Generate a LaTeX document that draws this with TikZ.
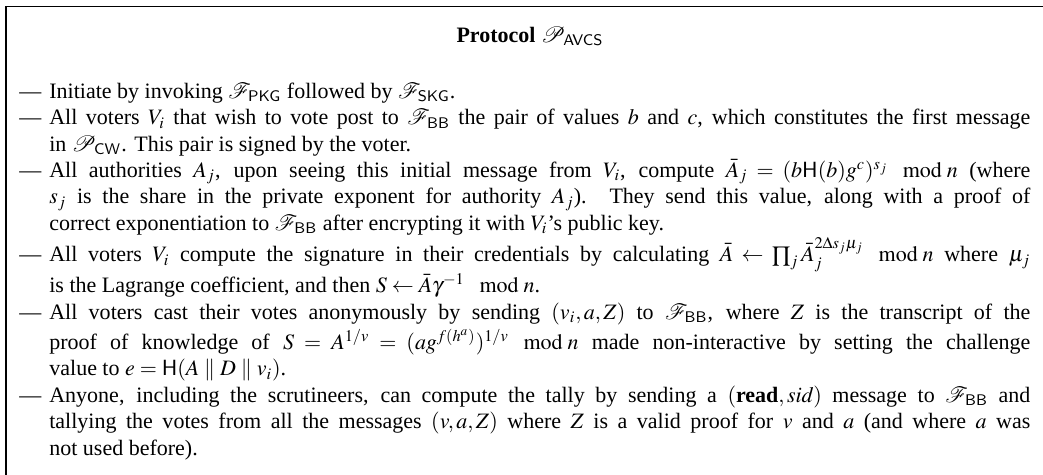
\documentclass[tikz,border=0pt]{standalone}
\usepackage{amsmath}
\usepackage{mathptmx}
\usepackage{fontspec}
\setmainfont{Liberation Serif}
\setsansfont{Liberation Sans}
\newcommand{\protstep}[1]{\par\noindent\hangindent=13.6pt\hangafter=1\strut\makebox[13.6pt][l]{---}#1\par}
\begin{document}
\begin{tikzpicture}[x=0.4545pt,y=-0.4545pt]
	\tikzset{step text/.style={anchor=north west,inner sep=0pt,text width=459.5pt,align=justify,font=\fontsize{10}{12}\selectfont}}
	\useasboundingbox (0,0) rectangle (1043,474);
	\draw[line width=0.6pt] (1060,6.5) -- (6,6.5) -- (6,490);
	\node[anchor=base,inner sep=0pt,font=\fontsize{10}{12}\selectfont\bfseries] (title) at (530,42) {Protocol $\mathcal{P}_{\mathsf{AVCS}}$};
	\node[step text] (steps) at (19,71.5) {%
		\protstep{Initiate by invoking $\mathcal{F}_{\mathsf{PKG}}$ followed by $\mathcal{F}_{\mathsf{SKG}}$.}
		\protstep{All voters $V_i$ that wish to vote post to $\mathcal{F}_{\mathsf{BB}}$ the pair of values $b$ and $c$, which constitutes the first message\linebreak in $\mathcal{P}_{\mathsf{CW}}$. This pair is signed by the voter.}
		\protstep{All authorities $A_j$, upon seeing this initial message from $V_i$, compute $\bar{A}_j = (b\mathsf{H}(b)g^c)^{s_j} \mod n$ (where\linebreak $s_j$ is the share in the private exponent for authority $A_j$). They send this value, along with a proof of\linebreak correct exponentiation to $\mathcal{F}_{\mathsf{BB}}$ after encrypting it with $V_i$'s public key.}
		\protstep{All voters $V_i$ compute the signature in their credentials by calculating $\bar{A} \leftarrow \prod_j \bar{A}_j^{2\Delta s_j\mu_j} \mod n$ where $\mu_j$\linebreak is the Lagrange coefficient, and then $S \leftarrow \bar{A}\gamma^{-1} \mod n$.}
		\protstep{All voters cast their votes anonymously by sending $(v_i,a,Z)$ to $\mathcal{F}_{\mathsf{BB}}$, where $Z$ is the transcript of the\linebreak proof of knowledge of $S = A^{1/v} = (ag^{f(h^a)})^{1/v} \mod n$ made non-interactive by setting the challenge\linebreak value to $e = \mathsf{H}(A \parallel D \parallel v_i)$.}
		\protstep{Anyone, including the scrutineers, can compute the tally by sending a $(\textbf{read},\mathit{sid})$ message to $\mathcal{F}_{\mathsf{BB}}$ and\linebreak tallying the votes from all the messages $(v,a,Z)$ where $Z$ is a valid proof for $v$ and $a$ (and where $a$ was\linebreak not used before).}
	};
\end{tikzpicture}
\end{document}
